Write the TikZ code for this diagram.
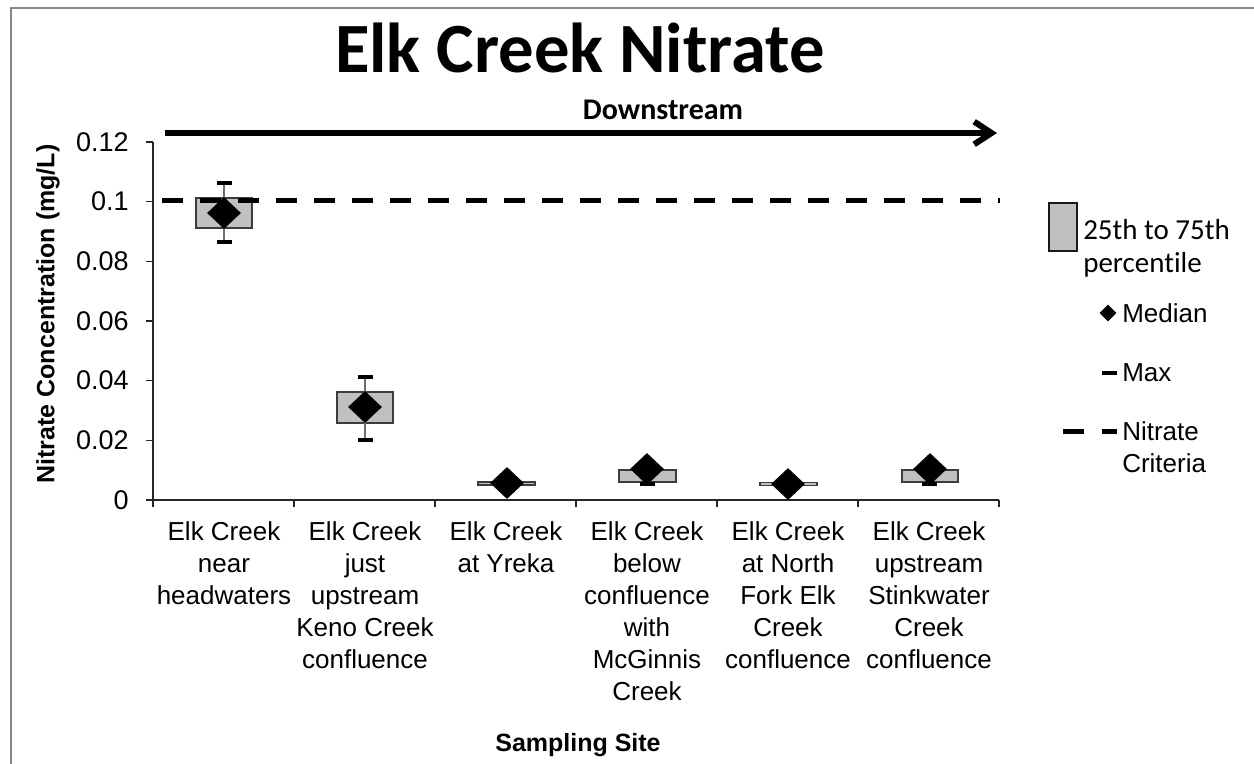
\documentclass[tikz,border=0pt]{standalone}
\usepackage{fontspec}
\setmainfont{Liberation Sans}
\newfontfamily\calfont[Ligatures=NoCommon]{Carlito}
\usetikzlibrary{arrows.meta,shapes.geometric}
\definecolor{boxgray}{RGB}{192,192,192}
\definecolor{framegray}{RGB}{134,134,134}
\definecolor{edgegray}{RGB}{60,60,60}
\definecolor{whiskgray}{RGB}{110,110,110}
\begin{document}
\begin{tikzpicture}[x=0.75pt,y=-0.75pt,
  lab/.style={font=\fontsize{19.5}{24}\selectfont, inner sep=0pt},
  cat/.style={lab, align=center, anchor=north},
  ticklab/.style={font=\fontsize{20.25}{24}\selectfont, inner sep=0pt, anchor=east},
  axisline/.style={draw=black!85, line width=0.9pt},
  iqr/.style={fill=boxgray, draw=edgegray, line width=0.9pt},
  whisk/.style={draw=whiskgray, line width=1.1pt},
  capbar/.style={fill=black},
  med/.style={diamond, fill=black, inner sep=0pt, minimum width=25.5pt, minimum height=24pt},
  crit/.style={line width=3.75pt, dash pattern=on 15.75pt off 12.75pt},
  axtitle/.style={font=\fontsize{18.75}{22}\selectfont\bfseries, inner sep=0pt}]
\useasboundingbox (0,0) rectangle (1254,764);
\fill[white] (0,0) rectangle (1254,764);
% chart frame
\draw[framegray, line width=1.2pt] (11,764) -- (11,8) -- (1254,8);

% title and flow direction
\node[font=\calfont\fontsize{53}{62}\selectfont\bfseries, inner sep=0pt] (title) at (580,48) {Elk Creek Nitrate};
\node[font=\calfont\fontsize{22.5}{27}\selectfont\bfseries, inner sep=0pt] (down) at (663,110) {Downstream};
\coordinate (arrS) at (165,133);
\coordinate (arrE) at (997,133);
\draw[line width=4.5pt, -{Straight Barb[length=13pt,width=17pt]}] (arrS) -- (arrE);

% axes
\draw[axisline] (153,142) -- (153,500) -- (999,500);
\foreach \yv/\lab in {142/0.12, 201.7/0.1, 261.4/0.08, 321/0.06, 380.7/0.04, 440.3/0.02, 500/0} {
  \draw[axisline] (146,\yv) -- (153,\yv);
  \node[ticklab] at (129,\yv) {\lab};
}
\foreach \xv in {153,294,435,576,717,858,999} {
  \draw[axisline] (\xv,500) -- (\xv,507);
}

% category labels
\node[cat] (c1) at (224,521) {Elk Creek\\near\\headwaters};
\node[cat] (c2) at (365,521) {Elk Creek\\just\\upstream\\Keno Creek\\confluence};
\node[cat] (c3) at (506,521) {Elk Creek\\at Yreka};
\node[cat] (c4) at (647,521) {Elk Creek\\below\\confluence\\with\\McGinnis\\Creek};
\node[cat] (c5) at (788,521) {Elk Creek\\at North\\Fork Elk\\Creek\\confluence};
\node[cat] (c6) at (929,521) {Elk Creek\\upstream\\Stinkwater\\Creek\\confluence};

% axis titles
\node[axtitle] (xt) at (578,745) {Sampling Site};
\node[axtitle, rotate=90] (yt) at (48,314) {Nitrate Concentration (mg/L)};

% interquartile boxes
\draw[iqr] (196,198) rectangle (252,228);
\draw[iqr] (337,392) rectangle (393,423);
\draw[iqr] (478,482) rectangle (535,485);
\draw[iqr] (619,470) rectangle (676,482);
\draw[iqr] (760,482.5) rectangle (817,485.5);
\draw[iqr] (902,470) rectangle (958,482);

% whiskers and min/max bars
\draw[whisk] (224,183) -- (224,242);
\draw[whisk] (365,377) -- (365,440);
\fill[capbar] (216.5,181) rectangle (231.5,185);
\fill[capbar] (216.5,240) rectangle (231.5,244);
\fill[capbar] (357.5,375) rectangle (372.5,379);
\fill[capbar] (357.5,438) rectangle (372.5,442);
\fill[capbar] (639.5,482) rectangle (654.5,486);
\fill[capbar] (921.5,482) rectangle (936.5,486);

% nitrate criteria
\draw[crit] (162,200) -- (1000,200);

% medians
\node[med] (m1) at (224,213) {};
\node[med] (m2) at (365,407) {};
\node[med] (m3) at (507,483) {};
\node[med] (m4) at (647,469) {};
\node[med] (m5) at (788,484) {};
\node[med] (m6) at (930,469) {};

% legend
\draw[fill=boxgray, draw=black!90, line width=1.9pt] (1049,203) rectangle (1077,251);
\node[font=\calfont\fontsize{21.75}{24.75}\selectfont, inner sep=0pt, align=left, anchor=north west] (lg1) at (1083,219) {25th to 75th\\percentile};
\node[diamond, fill=black, inner sep=0pt, minimum width=12.75pt, minimum height=12.75pt] (lgm) at (1108,313) {};
\node[lab, anchor=west] (lg2) at (1122,313) {Median};
\fill[capbar] (1102,371) rectangle (1117,375);
\node[lab, anchor=west] (lg3) at (1122,373) {Max};
\draw[line width=3.75pt] (1063,431) -- (1084,431);
\draw[line width=3.75pt] (1102,431) -- (1117,431);
\node[lab, align=left, anchor=north west] (lg4) at (1122,421.7) {Nitrate\\Criteria};
\end{tikzpicture}
\end{document}
